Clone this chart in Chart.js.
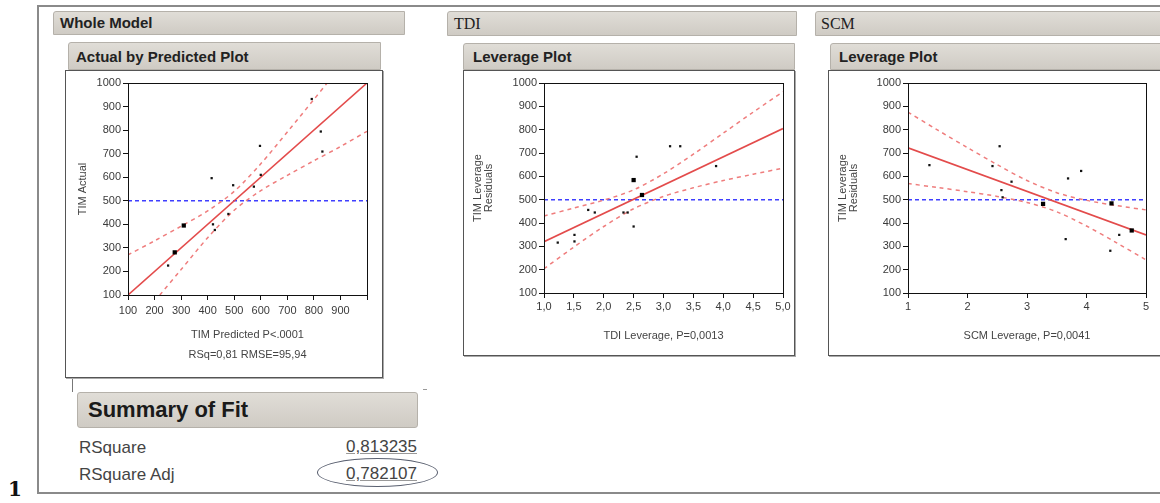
<!DOCTYPE html>
<html>
<head>
<meta charset="utf-8">
<script src="https://cdn.jsdelivr.net/npm/chart.js@4.4.0/dist/chart.umd.min.js"></script>
<style>
  body { margin:0; background:#fff; width:1160px; height:503px; overflow:hidden; position:relative;
         font-family:"Liberation Sans", Arial, sans-serif; color:#333; }
  .abs { position:absolute; box-sizing:border-box; white-space:nowrap; }
  .bar { position:absolute; box-sizing:border-box; white-space:nowrap;
         background:linear-gradient(#e0ddd7,#cfcbc4); border:1px solid #b5b1aa; border-radius:3px 0 0 0; color:#222; }
  .frame { position:absolute; box-sizing:border-box; border:1px solid #555; box-shadow:1px 1px 0 #aaa; background:#fff; }
  canvas { position:absolute; }
</style>
</head>
<body>

<!-- outer report frame -->
<div class="abs" style="left:37px;top:5px;width:1140px;height:489px;border:2px solid #8a8a8a;border-right:none;"></div>
<div class="abs" style="left:8px;top:477px;font-family:'DejaVu Serif',serif;font-weight:bold;font-size:20px;color:#111;">1</div>

<!-- outline headers -->
<div class="bar" style="left:53px;top:11px;width:352px;height:24px;font-weight:bold;font-size:15px;line-height:22px;padding-left:6px;">Whole Model</div>
<div class="bar" style="left:447px;top:11px;width:350px;height:25px;font-family:'Liberation Serif',serif;font-size:16px;line-height:23px;padding-left:6px;">TDI</div>
<div class="bar" style="left:815px;top:11px;width:360px;height:25px;font-family:'Liberation Serif',serif;font-size:16px;line-height:23px;padding-left:5px;">SCM</div>

<div class="bar" style="left:68px;top:42px;width:313px;height:28px;font-weight:bold;font-size:15px;line-height:27px;padding-left:7px;">Actual by Predicted Plot</div>
<div class="bar" style="left:463px;top:43px;width:332px;height:27px;font-weight:bold;font-size:15px;line-height:26px;padding-left:9px;">Leverage Plot</div>
<div class="bar" style="left:830px;top:43px;width:340px;height:27px;font-weight:bold;font-size:15px;line-height:26px;padding-left:8px;">Leverage Plot</div>

<!-- plot frames -->
<div class="frame" style="left:65px;top:70px;width:318px;height:308px;"></div>
<div class="frame" style="left:463px;top:70px;width:332px;height:286px;"></div>
<div class="frame" style="left:828px;top:70px;width:345px;height:286px;"></div>

<canvas id="wmChart" width="318" height="307" style="left:65px;top:70px;"></canvas>
<canvas id="tdiChart" width="332" height="285" style="left:463px;top:70px;"></canvas>
<canvas id="scmChart" width="340" height="285" style="left:828px;top:70px;"></canvas>

<!-- summary of fit -->
<div class="abs" style="left:72px;top:379px;width:1px;height:13px;background:#777;"></div>
<div class="bar" style="left:77px;top:392px;width:341px;height:36px;border-radius:3px;font-weight:bold;font-size:22px;line-height:34px;padding-left:10px;color:#1a1a1a;">Summary of Fit</div>
<div class="abs" style="left:423px;top:389px;width:4px;height:1px;background:#999;"></div>
<div class="abs" style="left:79px;top:438px;font-size:17px;color:#444;">RSquare</div>
<div class="abs" style="left:79px;top:465px;font-size:17px;color:#444;">RSquare Adj</div>
<div class="abs" style="left:300px;top:437px;width:117px;text-align:right;font-size:17px;color:#444;text-decoration:underline;text-decoration-color:#999;">0,813235</div>
<div class="abs" style="left:300px;top:464px;width:117px;text-align:right;font-size:17px;color:#444;text-decoration:underline;text-decoration-color:#999;">0,782107</div>
<div class="abs" style="left:317px;top:458px;width:121px;height:29px;border:1.5px solid #5a6070;border-radius:50%;"></div>

<script>
// ---- Whole Model: TIM Actual vs TIM Predicted ----
var wmPred      = [251, 415, 427, 496, 478, 597, 574, 600, 826, 832, 792, 420];
var wmActual    = [225, 596, 376, 566, 444, 733, 560, 610, 794, 709, 932, 400];
var wmPredBig   = [276, 310];
var wmActualBig = [281, 395];
var wmFitX      = [100, 1000];
var wmFitY      = [100, 1000];
var wmUpperX    = [100, 200, 300, 400, 500, 600, 700, 800, 850];
var wmUpperY    = [270, 330, 392, 457, 540, 657, 792, 930, 1000];
var wmLowerX    = [220, 300, 400, 500, 600, 700, 800, 900, 1000];
var wmLowerY    = [100, 208, 343, 460, 543, 608, 670, 730, 795];
var wmTicksX    = [100, 200, 300, 400, 500, 600, 700, 800, 900, 1000];

// ---- TDI leverage plot ----
var tdiX      = [2.55, 1.51, 1.51, 1.23, 1.85, 1.74, 2.33, 2.50, 3.11, 3.28, 3.88, 2.40];
var tdiY      = [684, 349, 321, 316, 445, 456, 445, 385, 729, 729, 644, 445];
var tdiXBig   = [2.50, 2.64];
var tdiYBig   = [584, 520];
var tdiFitX   = [1, 5];
var tdiFitY   = [320, 805];
var tdiBandX  = [1, 1.5, 2, 2.5, 3, 3.5, 4, 4.5, 5];
var tdiUpperY = [430, 464, 498, 542, 611, 695, 785, 875, 962];
var tdiLowerY = [204, 297, 385, 461, 514, 551, 582, 609, 635];

// ---- SCM leverage plot ----
var scmX      = [1.36, 2.54, 2.57, 2.74, 2.42, 3.69, 3.91, 3.65, 4.40, 4.55, 2.59];
var scmY      = [648, 729, 541, 577, 644, 591, 623, 331, 281, 349, 510];
var scmXBig   = [3.27, 4.42, 4.76];
var scmYBig   = [482, 484, 368];
var scmFitX   = [1, 5];
var scmFitY   = [722, 349];
var scmBandX  = [1, 1.5, 2, 2.5, 3, 3.5, 4, 4.5, 5];
var scmUpperY = [875, 798, 723, 650, 582, 530, 497, 475, 456];
var scmLowerY = [569, 552, 534, 514, 488, 448, 387, 316, 242];

var meanY = 500;

function pts(xs, ys) {
  return xs.map(function(x, i) { return {x: x, y: ys[i]}; });
}

var plotBox = {
  id: 'plotBox',
  afterDraw: function(chart) {
    var a = chart.chartArea, c = chart.ctx;
    c.save();
    c.strokeStyle = '#111';
    c.lineWidth = 1;
    c.strokeRect(Math.round(a.left) + 0.5, Math.round(a.top) + 0.5,
                 Math.round(a.right - a.left), Math.round(a.bottom - a.top));
    c.restore();
  }
};

function makePlot(id, o) {
  var ds = [
    {data: o.small, pointStyle: 'rect', pointRadius: 1.6, backgroundColor: '#111', borderColor: '#111', borderWidth: 0},
    {data: o.big, pointStyle: 'rect', pointRadius: 3, backgroundColor: '#000', borderColor: '#000', borderWidth: 0},
    {data: o.fit, showLine: true, pointRadius: 0, borderColor: '#e34b4b', borderWidth: 1.6},
    {data: o.upper, showLine: true, pointRadius: 0, borderColor: '#ef7d7d', borderWidth: 1.5, borderDash: [4, 4], tension: 0.3},
    {data: o.lower, showLine: true, pointRadius: 0, borderColor: '#ef7d7d', borderWidth: 1.5, borderDash: [4, 4], tension: 0.3},
    {data: [{x: o.xmin, y: meanY}, {x: o.xmax, y: meanY}], showLine: true, pointRadius: 0,
     borderColor: '#3f3fff', borderWidth: 1.5, borderDash: [4, 3]}
  ];
  return new Chart(document.getElementById(id), {
    type: 'scatter',
    data: {datasets: ds},
    plugins: [plotBox],
    options: {
      responsive: false,
      animation: false,
      devicePixelRatio: 1,
      layout: {padding: {left: 0, top: 13, right: o.padRight, bottom: 0}},
      plugins: {legend: {display: false}, tooltip: {enabled: false}},
      scales: {
        x: {
          type: 'linear', min: o.xmin, max: o.xmax,
          afterBuildTicks: o.xTicks ? function(s) { s.ticks = o.xTicks.map(function(v) { return {value: v}; }); } : undefined,
          ticks: {stepSize: o.xStep, autoSkip: false, maxRotation: 0, padding: o.xPad, color: '#3a3a3a',
                  font: {family: 'Liberation Sans', size: 11}, callback: o.xLabel},
          grid: {drawOnChartArea: false, drawTicks: true, tickLength: 5, tickColor: '#111'},
          border: {display: false},
          title: {display: true, text: o.xTitle, color: '#444',
                  font: {family: 'Liberation Sans', size: 11, lineHeight: o.xTitleLH},
                  padding: {top: 0, bottom: 12}},
          afterFit: function(s) { s.height = o.xHeight; s.paddingLeft = 0; s.paddingRight = 0; }
        },
        y: {
          type: 'linear', min: 100, max: 1000,
          ticks: {stepSize: 100, autoSkip: false, padding: 2, color: '#3a3a3a',
                  font: {family: 'Liberation Sans', size: 11},
                  callback: function(v) { return String(v); }},
          grid: {drawOnChartArea: false, drawTicks: true, tickLength: 5, tickColor: '#111'},
          border: {display: false},
          title: {display: true, text: o.yTitle, color: '#444',
                  font: {family: 'Liberation Sans', size: 11, lineHeight: 1},
                  padding: {top: o.yTitlePad, bottom: 0}},
          afterFit: function(s) { s.width = o.yWidth; s.paddingTop = 0; s.paddingBottom = 0; }
        }
      }
    }
  });
}

makePlot('wmChart', {
  small: pts(wmPred, wmActual), big: pts(wmPredBig, wmActualBig),
  fit: pts(wmFitX, wmFitY), upper: pts(wmUpperX, wmUpperY), lower: pts(wmLowerX, wmLowerY),
  xmin: 100, xmax: 1000, xStep: 100, xTicks: wmTicksX, xPad: 4,
  xLabel: function(v) { return v === 1000 ? '' : String(v); },
  xTitle: ['TIM Predicted P<.0001', 'RSq=0,81 RMSE=95,94'], xTitleLH: 1.8,
  yTitle: 'TIM Actual', yTitlePad: 12,
  padRight: 16, yWidth: 63, xHeight: 82
});

makePlot('tdiChart', {
  small: pts(tdiX, tdiY), big: pts(tdiXBig, tdiYBig),
  fit: pts(tdiFitX, tdiFitY), upper: pts(tdiBandX, tdiUpperY), lower: pts(tdiBandX, tdiLowerY),
  xmin: 1, xmax: 5, xStep: 0.5, xPad: 2,
  xLabel: function(v) { return v.toFixed(1).replace('.', ','); },
  xTitle: 'TDI Leverage, P=0,0013', xTitleLH: 1.2,
  yTitle: ['TIM Leverage', 'Residuals'], yTitlePad: 9.5,
  padRight: 12, yWidth: 81, xHeight: 62
});

makePlot('scmChart', {
  small: pts(scmX, scmY), big: pts(scmXBig, scmYBig),
  fit: pts(scmFitX, scmFitY), upper: pts(scmBandX, scmUpperY), lower: pts(scmBandX, scmLowerY),
  xmin: 1, xmax: 5, xStep: 1, xPad: 2,
  xLabel: function(v) { return String(v); },
  xTitle: 'SCM Leverage, P=0,0041', xTitleLH: 1.2,
  yTitle: ['TIM Leverage', 'Residuals'], yTitlePad: 9.5,
  padRight: 22, yWidth: 80, xHeight: 62
});
</script>
</body>
</html>
